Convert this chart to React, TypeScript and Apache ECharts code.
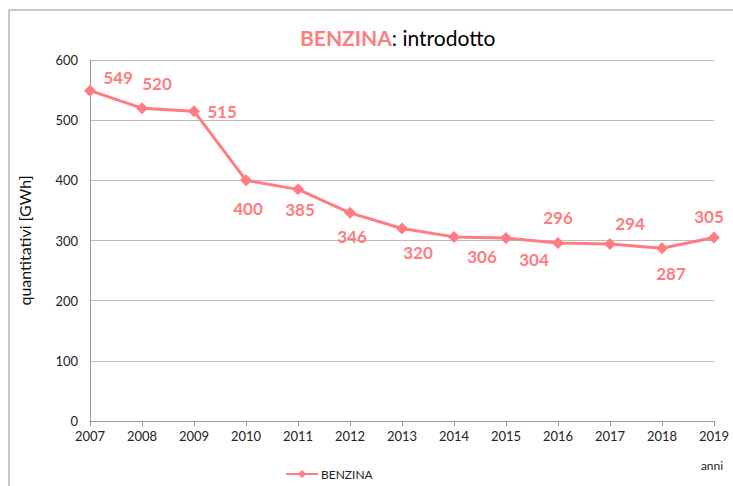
import React, { useEffect, useRef } from "react";
import * as echarts from "echarts";

const years = ["2007", "2008", "2009", "2010", "2011", "2012", "2013", "2014", "2015", "2016", "2017", "2018", "2019"];
const benzina = [549, 520, 515, 400, 385, 346, 320, 306, 304, 296, 294, 287, 305];
const labelOffsets: [number, number][] = [
  [28, -13], [15, -25], [28, 0], [2, 28], [2, 20], [2, 24], [16, 24], [28, 20], [28, 21], [0, -25], [20, -21], [9, 25], [-5, -21],
];

const FONT = "Lato, 'Open Sans', 'Liberation Sans', sans-serif";
const ROSE = "#FF7C80";

export default function App() {
  const ref = useRef<HTMLDivElement>(null);
  useEffect(() => {
    document.body.style.margin = "0";
    if (!ref.current) return;
    const chart = echarts.init(ref.current, null, { renderer: "svg" });
    chart.setOption({
      animation: false,
      backgroundColor: "#fff",
      textStyle: { fontFamily: FONT },
      title: {
        text: "{a|BENZINA}{b|: introdotto}",
        left: 295,
        top: 22,
        textStyle: {
          fontWeight: "normal",
          rich: {
            a: { fontSize: 21, fontWeight: "bold", color: ROSE, fontFamily: FONT },
            b: { fontSize: 21, fontWeight: "normal", color: "#000", fontFamily: FONT },
          },
        },
      },
      legend: {
        left: 280,
        top: 463,
        itemWidth: 32,
        itemHeight: 10,
        itemGap: 4,
        textStyle: { fontSize: 12, color: "#222", fontFamily: FONT, padding: [0, 0, 0, -2] },
        data: ["BENZINA"],
      },
      grid: { left: 90, right: 19, top: 60, bottom: 65 },
      xAxis: {
        type: "category",
        data: years,
        boundaryGap: false,
        axisLine: { lineStyle: { color: "#999", width: 1 } },
        axisTick: { show: true, length: 5, lineStyle: { color: "#999" } },
        axisLabel: { color: "#222", fontSize: 13, margin: 8, fontFamily: FONT },
        name: "anni",
        nameLocation: "end",
        nameGap: 0,
        nameTextStyle: { color: "#222", fontSize: 12, align: "center", verticalAlign: "top", padding: [38, 0, 0, -4], fontFamily: FONT },
      },
      yAxis: {
        type: "value",
        min: 0,
        max: 600,
        interval: 100,
        axisLine: { show: true, lineStyle: { color: "#999" } },
        axisTick: { show: false },
        splitLine: { lineStyle: { color: "#bbb", width: 1 } },
        axisLabel: { color: "#222", fontSize: 13, margin: 12, fontFamily: FONT },
        name: "quantitativi [GWh]",
        nameLocation: "middle",
        nameRotate: 90,
        nameGap: 58,
        nameTextStyle: { color: "#111", fontSize: 16, fontFamily: FONT },
      },
      series: [
        {
          name: "BENZINA",
          type: "line",
          symbol: "diamond",
          symbolSize: 12,
          itemStyle: { color: ROSE },
          lineStyle: { color: ROSE, width: 3 },
          data: benzina.map((v, i) => ({
            value: v,
            label: {
              show: true,
              position: "inside",
              offset: labelOffsets[i],
              color: ROSE,
              fontSize: 17,
              fontWeight: "bold",
              fontFamily: FONT,
            },
          })),
        },
      ],
      graphic: [
        { type: "line", shape: { x1: 9, y1: 10, x2: 733, y2: 10 }, style: { stroke: "#b5b5b5", lineWidth: 1.5 } },
        { type: "line", shape: { x1: 9, y1: 10, x2: 9, y2: 486 }, style: { stroke: "#b5b5b5", lineWidth: 1.5 } },
      ],
    });
    return () => chart.dispose();
  }, []);
  return <div ref={ref} style={{ width: 733, height: 486 }} />;
}
